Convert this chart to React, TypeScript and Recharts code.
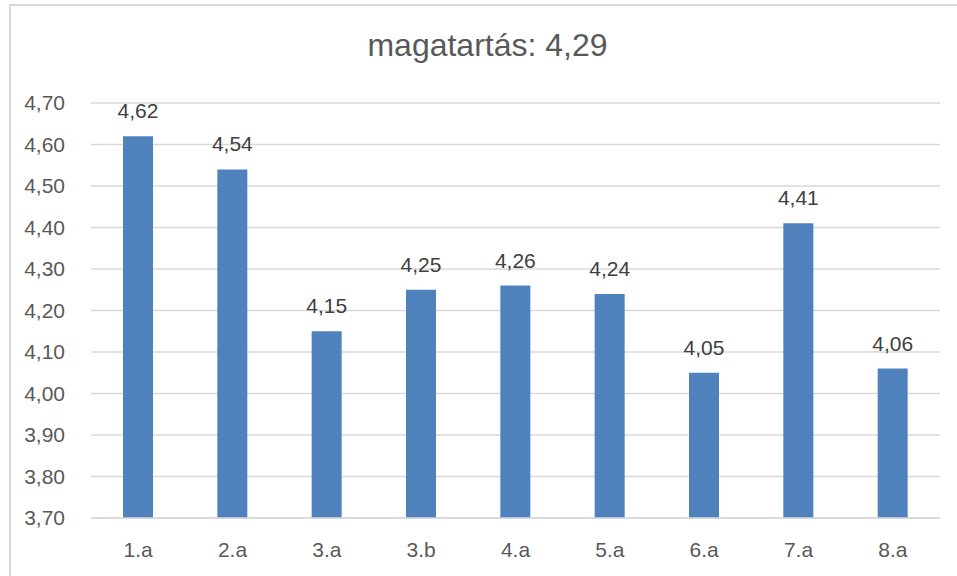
import React from 'react';
import { BarChart, Bar, XAxis, YAxis, CartesianGrid, LabelList } from 'recharts';

const categories = ['1.a', '2.a', '3.a', '3.b', '4.a', '5.a', '6.a', '7.a', '8.a'];
const values = [4.62, 4.54, 4.15, 4.25, 4.26, 4.24, 4.05, 4.41, 4.06];
const yTicks = [3.7, 3.8, 3.9, 4.0, 4.1, 4.2, 4.3, 4.4, 4.5, 4.6, 4.7];
const title = 'magatartás: 4,29';

const data = categories.map((c, i) => ({ name: c, value: values[i] }));
const fmt = (v: number) => v.toFixed(2).replace('.', ',');
const FONT = '"Liberation Sans", Arial, sans-serif';

export default function App() {
  return (
    <div style={{ position: 'absolute', left: 0, top: 0, width: 957, height: 576, background: '#fff', overflow: 'hidden', fontFamily: FONT }}>
      <div style={{ position: 'absolute', left: 9, top: 4, width: 1000, height: 1000, borderLeft: '2px solid #d9d9d9', borderTop: '2px solid #d9d9d9' }} />
      <div style={{ position: 'absolute', left: 0, width: 975, top: 27, textAlign: 'center', fontSize: 32, color: '#595959' }}>{title}</div>
      <div style={{ position: 'absolute', left: 0, top: 0 }}>
        <BarChart width={957} height={576} data={data} margin={{ top: 103, right: 17, bottom: 28, left: 31 }}>
          <CartesianGrid vertical={false} stroke="#d9d9d9" strokeWidth={1.5} />
          <XAxis dataKey="name" axisLine={{ stroke: '#d9d9d9', strokeWidth: 1.5 }} tickLine={false} height={30} tick={{ fill: '#595959', fontSize: 21, fontFamily: FONT }} tickMargin={18} />
          <YAxis domain={[3.7, 4.7]} ticks={yTicks} interval={0} axisLine={false} tickLine={false} width={60} tickFormatter={fmt} tick={{ fill: '#595959', fontSize: 21, fontFamily: FONT }} tickMargin={20} allowDataOverflow />
          <Bar dataKey="value" fill="#4f81bd" barSize={30} isAnimationActive={false}>
            <LabelList dataKey="value" position="top" offset={18} formatter={(v: any) => fmt(Number(v))} style={{ fill: '#404040', fontSize: 21, fontFamily: FONT }} />
          </Bar>
        </BarChart>
      </div>
    </div>
  );
}
